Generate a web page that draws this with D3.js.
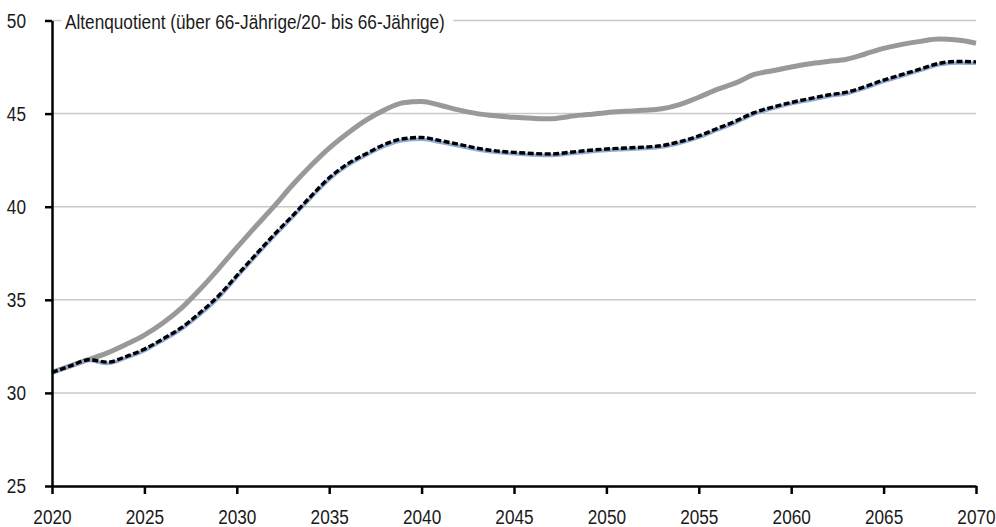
<!DOCTYPE html>
<html>
<head>
<meta charset="UTF-8" />
<title>Altenquotient</title>
<script src="https://d3js.org/d3.v7.min.js"></script>
<style>
  body { margin: 0; background: #fff; }
  svg text { font-family: "Liberation Sans", Arial, sans-serif; fill: #1a1a1a; }
</style>
</head>
<body>
<div id="main"></div>
<script type="text/javascript">

const years = d3.range(2020, 2071)

const grayValues = [
  31.10, 31.45, 31.80, 32.15, 32.60, 33.10, 33.75, 34.55, 35.55, 36.65,
  37.80, 38.92, 40.00, 41.15, 42.20, 43.15, 43.95, 44.65, 45.20, 45.58,
  45.65, 45.45, 45.20, 45.00, 44.88, 44.80, 44.75, 44.72, 44.85, 44.95,
  45.05, 45.12, 45.18, 45.26, 45.50, 45.88, 46.30, 46.65, 47.10, 47.30,
  47.50, 47.68, 47.80, 47.92, 48.20, 48.50, 48.72, 48.88, 49.00, 48.95,
  48.78
]

const blueValues = [
  31.08, 31.42, 31.74, 31.58, 31.88, 32.27, 32.82, 33.42, 34.20, 35.10,
  36.22, 37.32, 38.40, 39.42, 40.47, 41.47, 42.22, 42.77, 43.25, 43.55,
  43.62, 43.46, 43.26, 43.06, 42.92, 42.84, 42.78, 42.75, 42.84, 42.94,
  43.02, 43.07, 43.12, 43.20, 43.42, 43.72, 44.12, 44.52, 44.97, 45.27,
  45.52, 45.72, 45.92, 46.07, 46.37, 46.72, 47.02, 47.32, 47.62, 47.72,
  47.70
]

const dashedValues = [
  31.10, 31.45, 31.78, 31.65, 31.95, 32.35, 32.90, 33.50, 34.30, 35.20,
  36.30, 37.40, 38.48, 39.50, 40.55, 41.55, 42.30, 42.85, 43.35, 43.65,
  43.72, 43.55, 43.35, 43.15, 43.00, 42.92, 42.86, 42.83, 42.92, 43.02,
  43.10, 43.15, 43.20, 43.28, 43.50, 43.80, 44.20, 44.60, 45.05, 45.35,
  45.60, 45.80, 46.00, 46.15, 46.45, 46.80, 47.10, 47.40, 47.70, 47.80,
  47.78
]

const yTicks = [25, 30, 35, 40, 45, 50]
const xTicks = [2020, 2025, 2030, 2035, 2040, 2045, 2050, 2055, 2060, 2065, 2070]
const title = 'Altenquotient (über 66-Jährige/20- bis 66-Jährige)'

const width = 996
const height = 527
const margin = { left: 52, right: 20, top: 20.5, bottom: 41 }
const narrow = 0.84   // condensed look
const fontSize = '20.5px'

const x = d3.scaleLinear()
  .domain([2020, 2070])
  .range([margin.left, width - margin.right])

const y = d3.scaleLinear()
  .domain([25, 50])
  .range([height - margin.bottom, margin.top])

const svg = d3.select('#main').append('svg')
  .attr('width', width)
  .attr('height', height)

svg.append('rect')
  .attr('width', width)
  .attr('height', height)
  .attr('fill', '#fff')

// gridlines
svg.append('g')
  .selectAll('line')
  .data(yTicks.filter(d => d > 25))
  .enter().append('line')
  .attr('x1', x(2020))
  .attr('x2', x(2070))
  .attr('y1', d => y(d))
  .attr('y2', d => y(d))
  .attr('stroke', '#c9c9c9')
  .attr('stroke-width', 1.5)

// title with white box over the top gridline
const titleG = svg.append('g')
  .attr('transform', `translate(65,${y(50) + 1}) scale(${narrow},1)`)
const titleText = titleG.append('text')
  .attr('x', 0)
  .attr('y', 0)
  .attr('dy', '0.35em')
  .style('font-size', fontSize)
  .text(title)
const bb = titleText.node().getBBox()
titleG.insert('rect', 'text')
  .attr('x', bb.x - 4)
  .attr('y', bb.y)
  .attr('width', bb.width + 14)
  .attr('height', bb.height)
  .attr('fill', '#fff')

// series
const line = values => d3.line()
  .x((d, i) => x(years[i]))
  .y(d => y(d))
  .curve(d3.curveMonotoneX)(values)

svg.append('path')
  .attr('d', line(grayValues))
  .attr('fill', 'none')
  .attr('stroke', '#999999')
  .attr('stroke-width', 5)

svg.append('path')
  .attr('d', line(blueValues))
  .attr('fill', 'none')
  .attr('stroke', '#93acd6')
  .attr('stroke-width', 3.5)

svg.append('path')
  .attr('d', line(dashedValues))
  .attr('fill', 'none')
  .attr('stroke', '#000')
  .attr('stroke-width', 3.4)
  .attr('stroke-dasharray', '6,2.5')

// axes
const yAxis = svg.append('g')
  .attr('transform', `translate(${margin.left},0)`)
  .call(d3.axisLeft(y).tickValues(yTicks).tickSize(7).tickPadding(19).tickSizeOuter(0))
const xAxis = svg.append('g')
  .attr('transform', `translate(0,${y(25)})`)
  .call(d3.axisBottom(x).tickValues(xTicks).tickFormat(d3.format('d')).tickSize(8).tickPadding(15).tickSizeOuter(0))

;[yAxis, xAxis].forEach(g => {
  g.select('.domain').attr('stroke', '#000').attr('stroke-width', 2.5)
  g.selectAll('.tick line').attr('stroke', '#000').attr('stroke-width', 2.5)
  g.selectAll('.tick text').style('font-size', fontSize).attr('fill', '#1a1a1a')
})

// condense tick labels around their anchor point
yAxis.selectAll('.tick text')
  .attr('x', 0)
  .attr('transform', `translate(-26,0) scale(${narrow},1)`)
xAxis.selectAll('.tick text')
  .attr('transform', `scale(${narrow},1)`)

</script>
</body>
</html>
